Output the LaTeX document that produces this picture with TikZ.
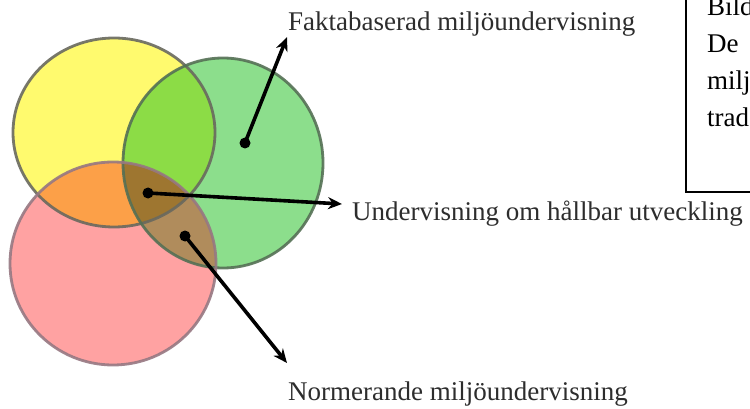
\documentclass[tikz,border=0pt]{standalone}
\usepackage{fontspec}
\setmainfont{Liberation Serif}
\usetikzlibrary{arrows.meta}
\definecolor{yfill}{RGB}{255,250,110}
\definecolor{gfill}{RGB}{140,222,140}
\definecolor{rfill}{RGB}{255,162,162}
\definecolor{ygfill}{RGB}{140,220,70}
\definecolor{yrfill}{RGB}{252,160,72}
\definecolor{grfill}{RGB}{176,140,92}
\definecolor{ygrfill}{RGB}{158,118,48}
\definecolor{ydraw}{RGB}{105,105,95}
\definecolor{gdraw}{RGB}{85,112,85}
\definecolor{rdraw}{RGB}{150,120,130}
\definecolor{txt}{RGB}{45,45,45}
\tikzset{
  setcircle/.style={line width=2.8pt},
  dotmark/.style={circle, fill=black, inner sep=0pt, minimum size=11pt},
  pointer/.style={line width=3.6pt, -{Stealth[length=14pt, width=12pt]}, black},
  lbl/.style={font=\fontsize{27}{32}\selectfont, text=txt, inner sep=0pt, anchor=base west},
  boxtxt/.style={font=\fontsize{27}{32}\selectfont, text=black, inner sep=0pt, anchor=base west},
}
\def\ypath{(114,132.5) ellipse [x radius=101, y radius=94.5]}
\def\gpath{(223,163) ellipse [x radius=100, y radius=105]}
\def\rpath{(113,263.5) ellipse [x radius=103, y radius=101.5]}
\begin{document}
\begin{tikzpicture}[x=1pt, y=-1pt]
\useasboundingbox (0,0) rectangle (750,409);
\fill[white] (0,0) rectangle (750,409);
\clip (0,0) rectangle (750,409);
% base fills
\fill[yfill] \ypath;
\fill[gfill] \gpath;
\fill[rfill] \rpath;
% overlaps
\begin{scope}
  \clip \ypath;
  \fill[ygfill] \gpath;
  \fill[yrfill] \rpath;
\end{scope}
\begin{scope}
  \clip \gpath;
  \fill[grfill] \rpath;
\end{scope}
\begin{scope}
  \clip \ypath;
  \clip \gpath;
  \fill[ygrfill] \rpath;
\end{scope}
% outlines
\draw[setcircle, draw=ydraw, draw opacity=0.9] \ypath;
\draw[setcircle, draw=gdraw, draw opacity=0.9] \gpath;
\draw[setcircle, draw=rdraw, draw opacity=0.9] \rpath;
\node[dotmark] (d1) at (245,143) {};
\node[dotmark] (d2) at (148,193) {};
\node[dotmark] (d3) at (185,236) {};
\coordinate (t1) at (287,37);
\coordinate (t2) at (342,204);
\coordinate (t3) at (287,363);
\draw[pointer] (d1.center) -- (t1);
\draw[pointer] (d2.center) -- (t2);
\draw[pointer] (d3.center) -- (t3);
\node[lbl] (l1) at (288,31) {Faktabaserad miljöundervisning};
\node[lbl] (l2) at (352,220) {Undervisning om hållbar utveckling};
\node[lbl] (l3) at (288,400) {Normerande miljöundervisning};
\draw[line width=2pt] (686,-5) -- (686,192) -- (760,192);
\node[boxtxt] (b1) at (707,16) {Bild};
\node[boxtxt] (b2) at (707,53) {De};
\node[boxtxt] (b3) at (707,90) {milj};
\node[boxtxt] (b4) at (707,127) {trad};
\end{tikzpicture}
\end{document}
